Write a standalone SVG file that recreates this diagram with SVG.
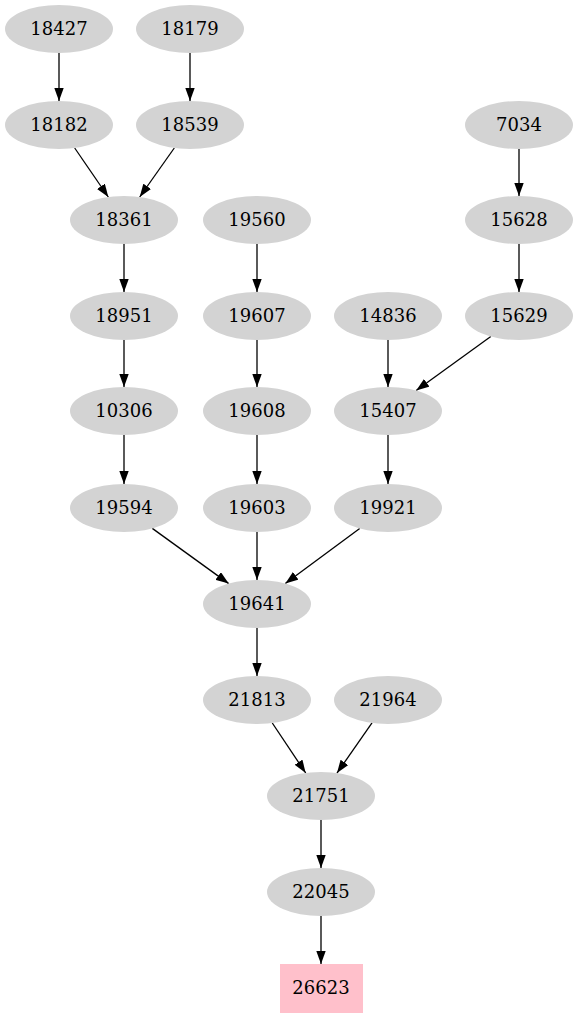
<svg xmlns="http://www.w3.org/2000/svg" width="579" height="1019" viewBox="0 0 579 1019">
<style>
.n ellipse{fill:#d3d3d3;stroke:none}
.n rect{fill:#ffc0cb;stroke:none}
.n text{font-family:"DejaVu Serif",serif;font-size:18px;fill:#000;text-anchor:middle}
.e line{stroke:#000;stroke-width:1.3;marker-end:url(#ah)}
</style>
<defs>
<marker id="ah" markerUnits="userSpaceOnUse" viewBox="0 0 13 9.4" refX="13" refY="4.7" markerWidth="13" markerHeight="9.4" orient="auto">
<path d="M0,0 L13,4.7 L0,9.4 z" fill="#000"/>
</marker>
</defs>
<rect width="579" height="1019" fill="#fff"/>
<g id="edges" class="e">
<line x1="59" y1="53" x2="59" y2="101"/>
<line x1="190" y1="53" x2="190" y2="101"/>
<line x1="74.7" y1="148" x2="108.3" y2="197"/>
<line x1="174.3" y1="148" x2="139.7" y2="197"/>
<line x1="519" y1="149" x2="519" y2="196"/>
<line x1="519" y1="244" x2="519" y2="292"/>
<line x1="124" y1="244" x2="124" y2="292"/>
<line x1="257" y1="244" x2="257" y2="292"/>
<line x1="124" y1="340" x2="124" y2="387"/>
<line x1="257" y1="340" x2="257" y2="387"/>
<line x1="388" y1="340" x2="388" y2="387"/>
<line x1="490.8" y1="336.5" x2="416.2" y2="390.5"/>
<line x1="124" y1="435" x2="124" y2="484"/>
<line x1="257" y1="435" x2="257" y2="484"/>
<line x1="388" y1="435" x2="388" y2="484"/>
<line x1="152.3" y1="528.4" x2="228.7" y2="583.6"/>
<line x1="257" y1="532" x2="257" y2="580"/>
<line x1="359.7" y1="528.4" x2="285.3" y2="583.6"/>
<line x1="257" y1="628" x2="257" y2="676"/>
<line x1="272.3" y1="723" x2="305.7" y2="773"/>
<line x1="372" y1="722.9" x2="337" y2="773.1"/>
<line x1="321" y1="820" x2="321" y2="868"/>
<line x1="321" y1="916" x2="321" y2="964"/>
</g>
<g id="n18427" class="n"><ellipse cx="59" cy="29" rx="54" ry="24"/><text x="59" y="35">18427</text></g>
<g id="n18179" class="n"><ellipse cx="190" cy="29" rx="54" ry="24"/><text x="190" y="35">18179</text></g>
<g id="n18182" class="n"><ellipse cx="59" cy="125" rx="54" ry="24"/><text x="59" y="131">18182</text></g>
<g id="n18539" class="n"><ellipse cx="190" cy="125" rx="54" ry="24"/><text x="190" y="131">18539</text></g>
<g id="n7034" class="n"><ellipse cx="519" cy="125" rx="54" ry="24"/><text x="519" y="131">7034</text></g>
<g id="n18361" class="n"><ellipse cx="124" cy="220" rx="54" ry="24"/><text x="124" y="226">18361</text></g>
<g id="n19560" class="n"><ellipse cx="257" cy="220" rx="54" ry="24"/><text x="257" y="226">19560</text></g>
<g id="n15628" class="n"><ellipse cx="519" cy="220" rx="54" ry="24"/><text x="519" y="226">15628</text></g>
<g id="n18951" class="n"><ellipse cx="124" cy="316" rx="54" ry="24"/><text x="124" y="322">18951</text></g>
<g id="n19607" class="n"><ellipse cx="257" cy="316" rx="54" ry="24"/><text x="257" y="322">19607</text></g>
<g id="n14836" class="n"><ellipse cx="388" cy="316" rx="54" ry="24"/><text x="388" y="322">14836</text></g>
<g id="n15629" class="n"><ellipse cx="519" cy="316" rx="54" ry="24"/><text x="519" y="322">15629</text></g>
<g id="n10306" class="n"><ellipse cx="124" cy="411" rx="54" ry="24"/><text x="124" y="417">10306</text></g>
<g id="n19608" class="n"><ellipse cx="257" cy="411" rx="54" ry="24"/><text x="257" y="417">19608</text></g>
<g id="n15407" class="n"><ellipse cx="388" cy="411" rx="54" ry="24"/><text x="388" y="417">15407</text></g>
<g id="n19594" class="n"><ellipse cx="124" cy="508" rx="54" ry="24"/><text x="124" y="514">19594</text></g>
<g id="n19603" class="n"><ellipse cx="257" cy="508" rx="54" ry="24"/><text x="257" y="514">19603</text></g>
<g id="n19921" class="n"><ellipse cx="388" cy="508" rx="54" ry="24"/><text x="388" y="514">19921</text></g>
<g id="n19641" class="n"><ellipse cx="257" cy="604" rx="54" ry="24"/><text x="257" y="610">19641</text></g>
<g id="n21813" class="n"><ellipse cx="257" cy="700" rx="54" ry="24"/><text x="257" y="706">21813</text></g>
<g id="n21964" class="n"><ellipse cx="388" cy="700" rx="54" ry="24"/><text x="388" y="706">21964</text></g>
<g id="n21751" class="n"><ellipse cx="321" cy="796" rx="54" ry="24"/><text x="321" y="802">21751</text></g>
<g id="n22045" class="n"><ellipse cx="321" cy="892" rx="54" ry="24"/><text x="321" y="898">22045</text></g>
<g id="n26623" class="n"><rect x="280" y="964" width="83" height="49"/><text x="321" y="994">26623</text></g>
</svg>
